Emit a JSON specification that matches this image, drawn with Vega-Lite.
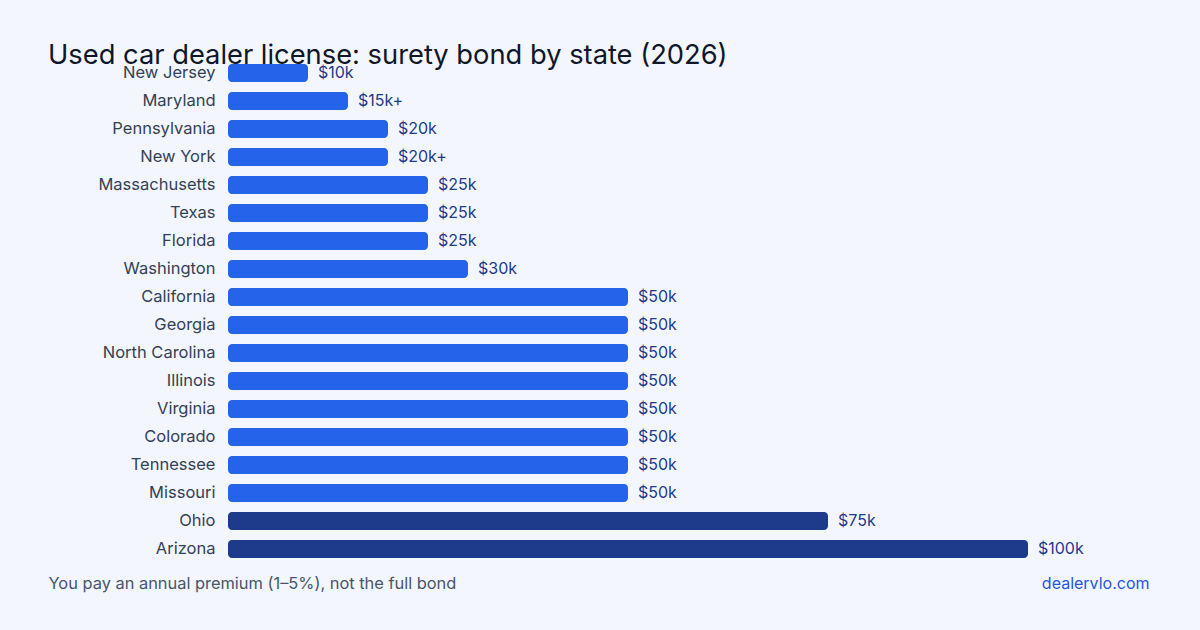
{
  "$schema": "https://vega.github.io/schema/vega-lite/v6.json",
  "width": 800,
  "height": 504,
  "autosize": "none",
  "padding": {"left": 228, "top": 59, "right": 172, "bottom": 67},
  "background": "#f4f6fd",
  "config": {
    "font": "Inter",
    "view": {"stroke": null},
    "axis": {"grid": false, "domain": false, "ticks": false}
  },
  "title": {
    "text": "Used car dealer license: surety bond by state (2026)",
    "anchor": "start",
    "frame": "group",
    "dx": -180,
    "dy": 14,
    "fontSize": 27.3,
    "fontWeight": "normal",
    "color": "#0f172a"
  },
  "data": {
    "values": [
      {"state": "New Jersey", "bond": 10, "label": "$10k"},
      {"state": "Maryland", "bond": 15, "label": "$15k+"},
      {"state": "Pennsylvania", "bond": 20, "label": "$20k"},
      {"state": "New York", "bond": 20, "label": "$20k+"},
      {"state": "Massachusetts", "bond": 25, "label": "$25k"},
      {"state": "Texas", "bond": 25, "label": "$25k"},
      {"state": "Florida", "bond": 25, "label": "$25k"},
      {"state": "Washington", "bond": 30, "label": "$30k"},
      {"state": "California", "bond": 50, "label": "$50k"},
      {"state": "Georgia", "bond": 50, "label": "$50k"},
      {"state": "North Carolina", "bond": 50, "label": "$50k"},
      {"state": "Illinois", "bond": 50, "label": "$50k"},
      {"state": "Virginia", "bond": 50, "label": "$50k"},
      {"state": "Colorado", "bond": 50, "label": "$50k"},
      {"state": "Tennessee", "bond": 50, "label": "$50k"},
      {"state": "Missouri", "bond": 50, "label": "$50k"},
      {"state": "Ohio", "bond": 75, "label": "$75k"},
      {"state": "Arizona", "bond": 100, "label": "$100k"}
    ]
  },
  "encoding": {
    "y": {
      "field": "state",
      "type": "nominal",
      "sort": null,
      "scale": {"paddingInner": 0.357, "paddingOuter": 0.18},
      "axis": {
        "labelFontSize": 16.5,
        "labelColor": "#334155",
        "labelPadding": 13,
        "title": "You pay an annual premium (1–5%), not the full bond",
        "titleAngle": 0,
        "titleX": -180,
        "titleY": 524,
        "titleAlign": "left",
        "titleBaseline": "middle",
        "titleFontSize": 16.4,
        "titleFontWeight": "normal",
        "titleColor": "#475569"
      }
    },
    "x": {
      "field": "bond",
      "type": "quantitative",
      "scale": {"domain": [0, 100], "nice": false},
      "axis": {
        "labels": false,
        "title": "dealervlo.com",
        "titleX": 921,
        "titleY": 20,
        "titleAlign": "right",
        "titleBaseline": "middle",
        "titleFontSize": 16,
        "titleFontWeight": "normal",
        "titleColor": "#2456e0"
      }
    }
  },
  "layer": [
    {
      "mark": {"type": "bar", "cornerRadius": 4},
      "encoding": {
        "color": {
          "condition": {"test": "datum.bond >= 75", "value": "#1e3a8a"},
          "value": "#2563eb"
        }
      }
    },
    {
      "mark": {"type": "text", "align": "left", "baseline": "middle", "dx": 10, "fontSize": 16, "color": "#1e3a8a"},
      "encoding": {"text": {"field": "label"}}
    }
  ]
}
